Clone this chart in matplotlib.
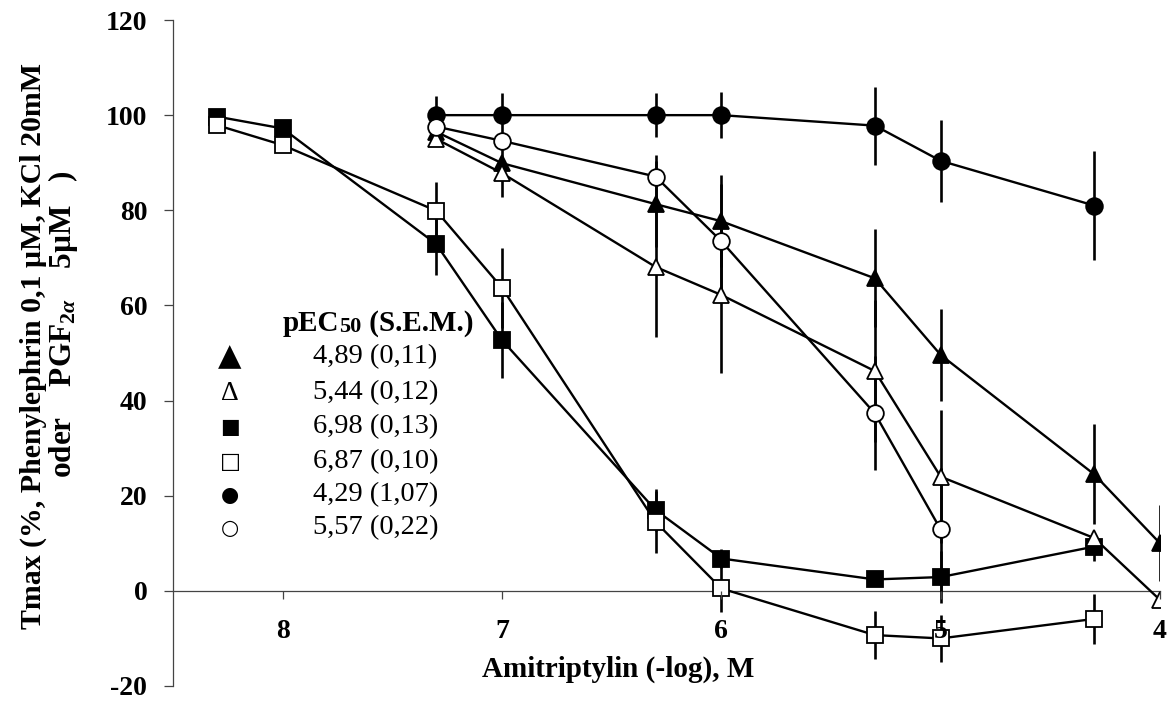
import matplotlib
matplotlib.use("Agg")
from matplotlib import pyplot as plt

plt.rcParams['font.family'] = ['Liberation Serif', 'DejaVu Sans']
plt.rcParams['mathtext.fontset'] = 'custom'
plt.rcParams['mathtext.rm'] = 'Liberation Serif:bold'
plt.rcParams['mathtext.it'] = 'Liberation Serif:bold:italic'
plt.rcParams['axes.unicode_minus'] = False

# -log concentration of Amitriptylin
x_sq = [8.3, 8.0, 7.3, 7.0, 6.3, 6.0, 5.3, 5.0, 4.3]
x_tri = [7.3, 7.0, 6.3, 6.0, 5.3, 5.0, 4.3, 4.0]
x_fc = [7.3, 7.0, 6.3, 6.0, 5.3, 5.0, 4.3]
x_oc = [7.3, 7.0, 6.3, 6.0, 5.3, 5.0]

# Tmax values (%) and S.E.M.
tri_fill = [96.5, 89.9, 81.3, 77.7, 65.7, 49.6, 24.5, 10.0]
tri_fill_err = [1, 1, 9, 9.7, 10.3, 9.6, 10.5, 8]
tri_open = [95.0, 87.8, 68.1, 62.2, 46.2, 24.0, 11.1, -1.9]
tri_open_err = [1, 5, 14.7, 16.5, 15, 14, 1, 1]
sq_fill = [99.7, 97.2, 72.9, 52.7, 17.0, 6.8, 2.4, 2.9, 9.3]
sq_fill_err = [0.5, 0.5, 6.5, 8, 4.5, 2, 1, 5.5, 3]
sq_open = [97.9, 93.7, 79.9, 63.7, 14.5, 0.5, -9.3, -10.0, -5.9]
sq_open_err = [0.5, 0.5, 6, 8.4, 6.5, 5, 5, 5, 5.3]
circ_fill = [100.0, 100.0, 100.0, 100.0, 97.8, 90.4, 81.0]
circ_fill_err = [4, 4.6, 4.6, 4.9, 8.2, 8.6, 11.5]
circ_open = [97.6, 94.6, 87.1, 73.5, 37.3, 12.9]
circ_open_err = [1, 1, 4.5, 12, 12, 13]

x_ticks = [8, 7, 6, 5, 4]
y_ticks = [-20, 0, 20, 40, 60, 80, 100, 120]

legend_symbols = ['▲', 'Δ', '■', '□', '●', '○']
legend_labels = ['4,89 (0,11)', '5,44 (0,12)', '6,98 (0,13)',
                 '6,87 (0,10)', '4,29 (1,07)', '5,57 (0,22)']

fig = plt.figure(figsize=(11.73, 7.02), dpi=100)
ax = fig.add_axes([0.1475, 0.0228, 0.8414, 0.9487])

series = [
    (x_sq, sq_fill, sq_fill_err, 's', 'k'),
    (x_sq, sq_open, sq_open_err, 's', 'w'),
    (x_tri, tri_fill, tri_fill_err, '^', 'k'),
    (x_tri, tri_open, tri_open_err, '^', 'w'),
    (x_fc, circ_fill, circ_fill_err, 'o', 'k'),
    (x_oc, circ_open, circ_open_err, 'o', 'w'),
]
for xs, ys, es, mk, fc in series:
    ax.errorbar(xs, ys, yerr=es, fmt='none', ecolor='k', elinewidth=1.9,
                capsize=0, zorder=3)
for xs, ys, es, mk, fc in series:
    ax.plot(xs, ys, '-', color='k', lw=1.7, marker=mk, ms=12, mfc=fc,
            mec='k', mew=1.3, zorder=4)

ax.set_xlim(8.5, 4.0)
ax.set_ylim(-20, 120)
ax.set_xticks(x_ticks)
ax.set_yticks(y_ticks)

for s in ['top', 'right']:
    ax.spines[s].set_visible(False)
ax.spines['bottom'].set_position(('data', 0))
for s in ['left', 'bottom']:
    ax.spines[s].set_color('#444444')
    ax.spines[s].set_linewidth(0.9)

ax.tick_params(axis='y', direction='out', length=6.5, width=0.9,
               color='#444444', pad=12, labelsize=20)
ax.tick_params(axis='x', direction='out', length=6, width=0.9,
               color='#444444', pad=14, labelsize=20)
for lab in ax.get_xticklabels() + ax.get_yticklabels():
    lab.set_fontweight('bold')
ax.xaxis.set_zorder(5)

ax.annotate('Amitriptylin (-log), M', xy=(0.451, -16.6),
            xycoords=('axes fraction', 'data'), ha='center', va='center',
            fontsize=21, fontweight='bold')

fig.text(0.0281, 0.507, 'Tmax (%, Phenylephrin 0,1 µM, KCl 20mM',
         rotation=90, ha='center', va='center', fontsize=21.5,
         fontweight='bold')
fig.text(0.0535, 0.538, r'oder    PGF$_{2\alpha}$    5µM   )',
         rotation=90, ha='center', va='center', fontsize=22.5,
         fontweight='bold')

# legend block (text)
head = ax.text(0.1114, 0.545, 'pEC', transform=ax.transAxes, ha='left',
               va='center', fontsize=21, fontweight='bold')
sub = ax.annotate('50', xy=(1, 0), xycoords=head, ha='left', va='bottom',
                  fontsize=16, fontweight='bold')
ax.annotate(' (S.E.M.)', xy=(1, 0), xycoords=(sub, head), ha='left',
            va='bottom', fontsize=21, fontweight='bold')

row_y = [0.4940, 0.4399, 0.3889, 0.3363, 0.2868, 0.2372]
sym_size = [22, 20, 15, 16, 15, 15]
for sym, lab, yy, fs in zip(legend_symbols, legend_labels, row_y, sym_size):
    fam = ['Liberation Serif'] if sym == 'Δ' else ['DejaVu Sans']
    ax.text(0.0578, yy, sym, transform=ax.transAxes, ha='center',
            va='center', fontsize=fs, family=fam)
    ax.text(0.1419, yy, lab, transform=ax.transAxes, ha='left',
            va='center', fontsize=20.5)

fig.savefig('out.png', dpi=100)
